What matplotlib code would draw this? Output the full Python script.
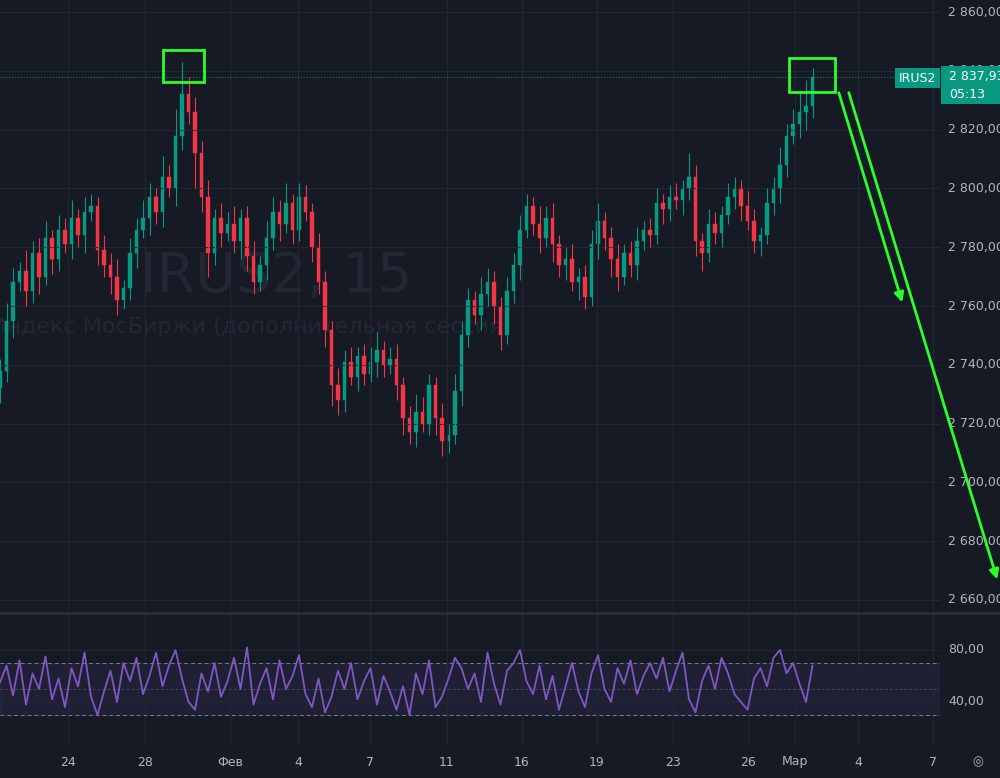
import matplotlib
matplotlib.use("Agg")
import matplotlib.pyplot as plt
from matplotlib.patches import Rectangle

# ---- data (15-min candles) ----
closes = [2738, 2755, 2768, 2772, 2765, 2778, 2770, 2783, 2776, 2786,
          2781, 2790, 2784, 2792, 2794, 2779, 2774, 2770, 2762, 2766,
          2778, 2786, 2790, 2797, 2792, 2804, 2800, 2818, 2832, 2826,
          2812, 2797, 2778, 2790, 2785, 2788, 2782, 2790, 2777, 2768,
          2774, 2783, 2792, 2788, 2795, 2786, 2797, 2792, 2780, 2768,
          2752, 2733, 2728, 2741, 2736, 2743, 2737, 2741, 2745, 2740,
          2742, 2733, 2722, 2717, 2724, 2720, 2733, 2722, 2714, 2716,
          2731, 2750, 2762, 2757, 2764, 2768, 2760, 2750, 2765, 2774,
          2786, 2794, 2788, 2783, 2790, 2781, 2774, 2776, 2768, 2770,
          2763, 2781, 2789, 2783, 2776, 2770, 2778, 2774, 2782, 2786,
          2784, 2795, 2793, 2797, 2796, 2800, 2804, 2782, 2778, 2788,
          2785, 2791, 2797, 2800, 2794, 2789, 2782, 2784, 2795, 2800,
          2808, 2818, 2822, 2826, 2828, 2838]
up_wick = [4, 6, 5, 3, 7, 4, 5, 6, 3, 5, 4, 6, 3, 5, 4, 3, 5, 4, 6, 3,
           5, 4, 6, 5, 3, 7, 4, 9, 11, 6, 5, 4, 6, 3, 5, 4, 6, 3, 4, 5,
           3, 6, 5, 4, 7, 3, 5, 4, 3, 5, 4, 3, 6, 4, 5, 3, 4, 5, 6, 3,
           4, 5, 3, 4, 6, 5, 4, 3, 5, 4, 6, 5, 4, 3, 6, 5, 4, 3, 5, 4,
           5, 4, 3, 6, 4, 5, 3, 4, 5, 3, 4, 5, 6, 3, 4, 5, 3, 4, 5, 3,
           4, 5, 3, 4, 5, 3, 8, 4, 3, 5, 4, 3, 5, 4, 3, 5, 4, 3, 5, 4,
           6, 4, 5, 7, 9, 3]
dn_wick = [5, 4, 6, 3, 5, 4, 6, 3, 5, 4, 3, 5, 4, 6, 3, 5, 4, 6, 5, 3,
           4, 5, 3, 6, 4, 5, 3, 6, 5, 4, 12, 5, 8, 4, 5, 3, 4, 6, 5, 4,
           3, 5, 4, 6, 3, 5, 4, 3, 5, 4, 6, 7, 5, 4, 3, 5, 4, 3, 5, 4,
           3, 5, 6, 4, 5, 3, 4, 6, 5, 4, 3, 5, 4, 3, 5, 4, 6, 5, 3, 4,
           5, 3, 4, 5, 3, 6, 4, 5, 3, 6, 4, 3, 5, 4, 6, 5, 3, 4, 5, 3,
           4, 3, 5, 4, 3, 5, 4, 5, 6, 3, 4, 5, 3, 4, 5, 3, 4, 5, 3, 4,
           5, 4, 3, 5, 6, 4]
rsi = [55, 68, 45, 72, 38, 62, 50, 75, 42, 58, 36, 66, 52, 78, 44, 30, 48, 64, 40, 70,
       56, 74, 46, 60, 78, 52, 68, 80, 58, 40, 34, 62, 48, 70, 44, 56, 74, 50, 82, 38,
       54, 66, 42, 72, 50, 60, 76, 46, 36, 58, 32, 44, 64, 50, 70, 42, 56, 66, 38, 60,
       48, 34, 52, 30, 62, 46, 72, 36, 44, 58, 74, 66, 50, 62, 40, 78, 54, 38, 64, 70,
       80, 56, 46, 68, 42, 60, 34, 52, 70, 48, 36, 62, 76, 50, 40, 66, 54, 72, 46, 60,
       70, 58, 74, 48, 64, 78, 42, 32, 56, 68, 50, 74, 62, 46, 40, 34, 58, 66, 52, 74,
       80, 62, 70, 54, 40, 68]
last_price = "2 837,93"
price_ticks = [2660, 2680, 2700, 2720, 2740, 2760, 2780, 2800, 2820, 2840, 2860]
date_labels = ["24", "28", "Фев", "4", "7", "11", "16", "19", "23", "26", "Мар", "4", "7"]
date_pos = [68, 145, 230, 298, 370, 447, 522, 597, 673, 748, 795, 858, 933]

BG = "#161a25"
GRID = "#232733"
UP = "#089981"
DN = "#f23645"
TXT = "#b2b5be"
GREEN = "#2aff2a"

fig = plt.figure(figsize=(10, 7.78), dpi=100, facecolor=BG)
W, H = 1000, 778
ax = fig.add_axes([0, 1 - 612 / H, 940 / W, 612 / H], facecolor=BG)
ax2 = fig.add_axes([0, 1 - 745 / H, 940 / W, 130 / H], facecolor=BG)

step = 6.5
xs = [i * step for i in range(len(closes))]
opens = [closes[0] - 6] + closes[:-1]
for x, o, c, uw, dw in zip(xs, opens, closes, up_wick, dn_wick):
    col = UP if c >= o else DN
    ax.vlines(x, min(o, c) - dw, max(o, c) + uw, color=col, lw=0.8)
    ax.add_patch(Rectangle((x - 1.7, min(o, c)), 3.4, max(abs(c - o), 0.4),
                           facecolor=col, edgecolor=col, lw=0.3))

ax.set_xlim(0, 940)
ax.set_ylim(2655.9, 2864.1)
ax.set_yticks(price_ticks)
ax.set_xticks(date_pos)
ax.grid(True, color=GRID, lw=0.8)
ax.tick_params(length=0, labelleft=False, labelbottom=False)
for s in ax.spines.values():
    s.set_visible(False)
ax.axhline(2837.93, color=UP, lw=0.7, ls=(0, (1, 2)))

ax.text(140, 2770, "IRUS2, 15", fontsize=40, color="#232733", va="center", zorder=0)
ax.text(-10, 2753, "Индекс МосБиржи (дополнительная сессия)", fontsize=16,
        color="#232733", va="center", zorder=0)

# RSI pane
ax2.axhspan(30, 70, color="#7e57c2", alpha=0.1)
ax2.axhline(70, color="#787b86", lw=0.7, ls=(0, (4, 3)))
ax2.axhline(30, color="#787b86", lw=0.7, ls=(0, (4, 3)))
ax2.axhline(50, color="#787b86", lw=0.5, ls=(0, (4, 3)), alpha=0.6)
ax2.plot(xs, rsi, color="#7e57c2", lw=1.3)
ax2.set_xlim(0, 940)
ax2.set_ylim(6.9, 106.9)
ax2.set_xticks(date_pos)
ax2.set_yticks([40, 80])
ax2.grid(True, color=GRID, lw=0.8)
ax2.tick_params(length=0, labelleft=False, labelbottom=False)
for s in ax2.spines.values():
    s.set_visible(False)

# overlay in pixel coordinates for labels and drawings
ov = fig.add_axes([0, 0, 1, 1], facecolor="none")
ov.set_xlim(0, W)
ov.set_ylim(H, 0)
ov.axis("off")
ov.axhline(613, xmin=0, xmax=1, color="#2a2e39", lw=2)

for p in price_ticks:
    y = 12 + (2860 - p) * 2.94
    ov.text(948, y, f"{p:,}".replace(",", " ") + ",00", color=TXT, fontsize=9,
            va="center", zorder=1)
for v, y in [(80, 650), (40, 702)]:
    ov.text(948, y, f"{v},00", color=TXT, fontsize=9, va="center")
for lab, x in zip(date_labels, date_pos):
    ov.text(x, 762, lab, color=TXT, fontsize=9, ha="center", va="center")
ov.text(978, 762, "◎", color=TXT, fontsize=9, ha="center", va="center")

# last-price label sits on top of the 2 840 tick label
ov.add_patch(Rectangle((895, 68), 45, 20, facecolor=UP, edgecolor="none", zorder=3))
ov.text(917, 78, "IRUS2", color="white", fontsize=9, ha="center", va="center", zorder=4)
ov.add_patch(Rectangle((941, 66), 59, 38, facecolor=UP, edgecolor="none", zorder=3))
ov.text(949, 76, last_price, color="white", fontsize=9, va="center", zorder=4)
ov.text(949, 94, "05:13", color="white", fontsize=9, va="center", zorder=4)

ov.add_patch(Rectangle((163, 50), 41, 32, fill=False, edgecolor=GREEN, lw=2))
ov.add_patch(Rectangle((789, 58), 46, 34, fill=False, edgecolor=GREEN, lw=2))
ov.annotate("", xy=(903, 305), xytext=(838, 90),
            arrowprops=dict(arrowstyle="-|>", color=GREEN, lw=2, mutation_scale=14))
ov.annotate("", xy=(998, 582), xytext=(848, 90),
            arrowprops=dict(arrowstyle="-|>", color=GREEN, lw=2, mutation_scale=14))

fig.savefig("out.png", dpi=100, facecolor=BG)
